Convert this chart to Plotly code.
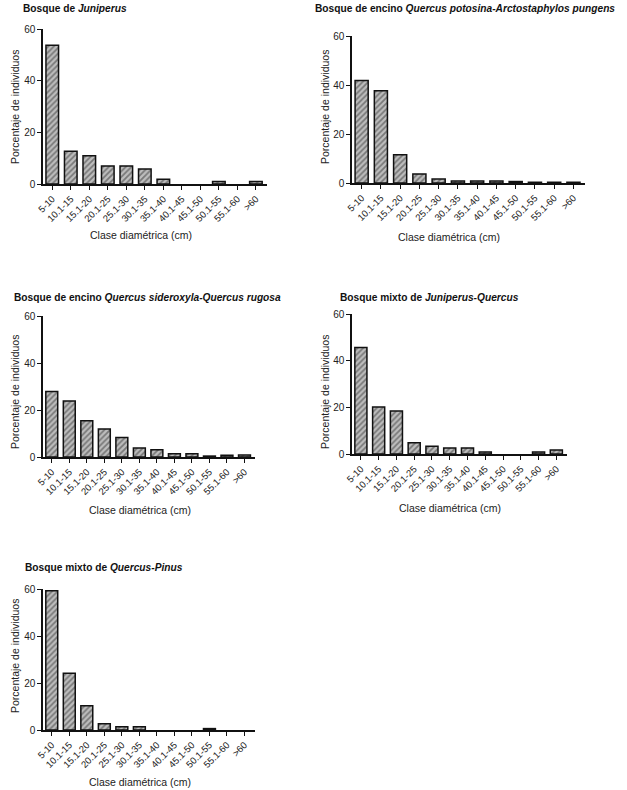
import plotly.graph_objects as go

W, H = 627, 790

categories = ["5-10", "10.1-15", "15.1-20", "20.1-25", "25.1-30", "30.1-35",
              "35.1-40", "40.1-45", "45.1-50", "50.1-55", "55.1-60", ">60"]

juniperus = [53.7, 12.7, 10.9, 7.0, 7.0, 5.8, 1.8, 0, 0, 1.0, 0, 1.0]
potosina = [41.8, 37.7, 11.5, 3.7, 1.6, 0.8, 0.8, 0.8, 0.6, 0.3, 0.3, 0.3]
sideroxyla = [27.9, 23.8, 15.4, 11.9, 8.3, 3.8, 3.1, 1.4, 1.4, 0.4, 0.7, 0.8]
juniperus_quercus = [45.6, 20.1, 18.4, 4.8, 3.3, 2.6, 2.6, 0.9, 0, 0, 0.9, 1.7]
quercus_pinus = [59.3, 24.1, 10.3, 2.7, 1.4, 1.4, 0, 0, 0, 0.6, 0, 0]

y_ticks = [0, 20, 40, 60]

titles = [
    "Bosque de <i>Juniperus</i>",
    "Bosque de encino <i>Quercus potosina-Arctostaphylos pungens</i>",
    "Bosque de encino <i>Quercus sideroxyla-Quercus rugosa</i>",
    "Bosque mixto de <i>Juniperus-Quercus</i>",
    "Bosque mixto de <i>Quercus-Pinus</i>",
]
series = [juniperus, potosina, sideroxyla, juniperus_quercus, quercus_pinus]

x_label = "Clase diamétrica (cm)"
y_label = "Porcentaje de individuos"

# panel geometry in window pixels: (x0, x1, ytop, ybottom)
panels = [
    (43, 267, 29, 184),
    (352, 585, 36, 183),
    (43, 255, 316, 457),
    (352, 567, 314, 454),
    (43, 255, 589, 730),
]
title_pos = [(22, 9), (314, 9), (13, 297), (339, 297), (24, 567)]
xtitle_pos = [(141, 235), (449, 237), (140, 510), (450, 508), (140, 782)]
ytitle_pos = [(15, 107), (325, 107), (15, 392), (325, 392), (15, 656)]


def px(x):
    return x / W


def py(y):
    return 1 - y / H


FONT = "Liberation Sans, Arial, sans-serif"

fig = go.Figure()
layout = dict(
    width=W, height=H, margin=dict(l=0, r=0, t=0, b=0, pad=0),
    paper_bgcolor="white", plot_bgcolor="rgba(0,0,0,0)", showlegend=False,
    font=dict(family=FONT, color="#222"),
)
annotations = []
for i, (vals, (x0, x1, yt, yb)) in enumerate(zip(series, panels)):
    n = "" if i == 0 else str(i + 1)
    shown = [v if v > 0 else None for v in vals]
    fig.add_trace(go.Bar(
        x=list(range(len(categories))), y=shown,
        xaxis="x" + n, yaxis="y" + n,
        marker=dict(
            color="#b8b8b8",
            line=dict(color="#111", width=1.5),
            pattern=dict(shape="/", fgcolor="#333", bgcolor="#bdbdbd",
                         size=4, solidity=0.45),
        ),
        width=0.68,
    ))
    layout["xaxis" + n] = dict(
        domain=[px(x0), px(x1)], anchor="y" + n, automargin=False,
        range=[-0.5, 11.6], tickmode="array",
        tickvals=list(range(len(categories))), ticktext=categories,
        tickangle=-45, ticks="outside", ticklen=4, tickwidth=1.2,
        tickcolor="#111", showline=True, linecolor="#111", linewidth=1.5,
        showgrid=False, zeroline=False,
        tickfont=dict(size=9.5, family=FONT, color="#222"),
    )
    layout["yaxis" + n] = dict(
        domain=[py(yb), py(yt)], anchor="x" + n, automargin=False,
        range=[0, 60], tickmode="array", tickvals=y_ticks,
        ticks="outside", ticklen=4, tickwidth=1.2, tickcolor="#111",
        showline=True, linecolor="#111", linewidth=1.5,
        showgrid=False, zeroline=False,
        tickfont=dict(size=10, family=FONT, color="#222"),
    )
    tx, ty = title_pos[i]
    annotations.append(dict(
        text="<b>" + titles[i] + "</b>", x=px(tx), y=py(ty),
        xref="paper", yref="paper", xanchor="left", yanchor="middle",
        showarrow=False, borderpad=0,
        font=dict(size=10.2, family=FONT, color="#111"),
    ))
    ax, ay = xtitle_pos[i]
    annotations.append(dict(
        text=x_label, x=px(ax), y=py(ay), xref="paper", yref="paper",
        xanchor="center", yanchor="middle", showarrow=False,
        font=dict(size=10.5, family=FONT, color="#222"),
    ))
    bx, by = ytitle_pos[i]
    annotations.append(dict(
        text=y_label, x=px(bx), y=py(by), xref="paper", yref="paper",
        xanchor="center", yanchor="middle", showarrow=False, textangle=-90,
        font=dict(size=10.5, family=FONT, color="#222"),
    ))

layout["annotations"] = annotations
fig.update_layout(**layout)
fig.write_html(
    "out.html",
    config={"displayModeBar": False},
    post_script="document.body.style.margin='0px';"
                "document.body.style.overflow='hidden';",
)
